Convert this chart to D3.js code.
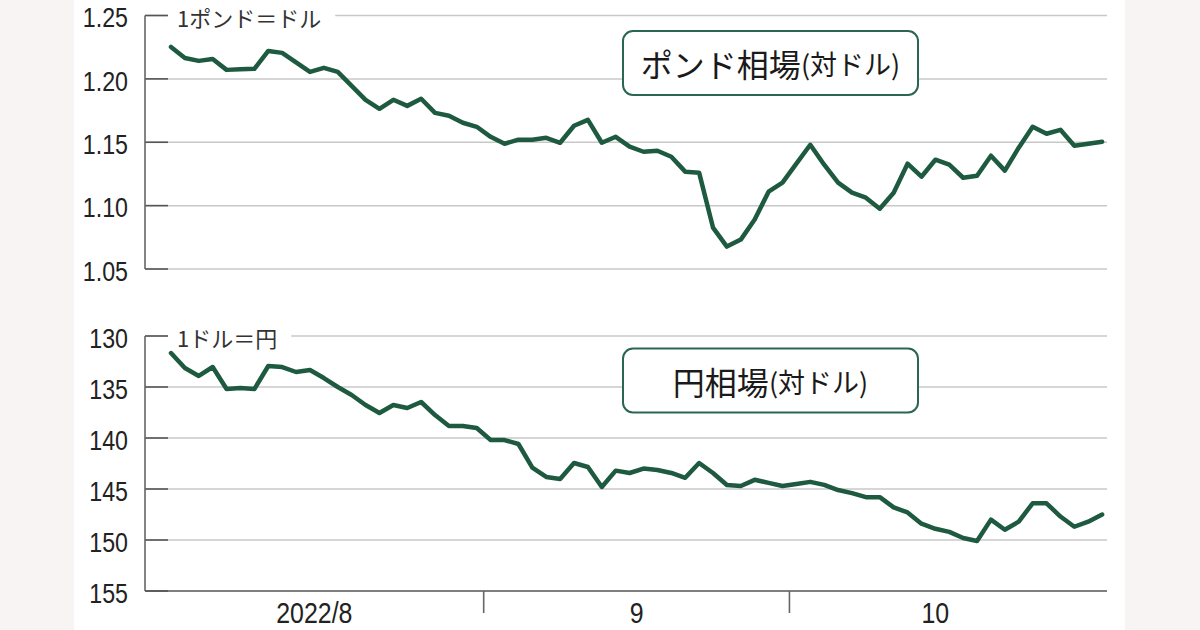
<!DOCTYPE html>
<html><head><meta charset="utf-8">
<script src="https://cdn.jsdelivr.net/npm/d3@7"></script>
<style>
html,body{margin:0;padding:0;background:#f8f4f3;}
svg{display:block;}
</style></head><body>
<svg id="chart" width="1200" height="630"></svg>
<script>
// ---- data (one value per trading day, Aug 1 2022 .. Nov 2 2022) ----
const poundValues = [
  1.2252,1.2165,1.2142,1.2157,1.2071,1.2075,1.2079,1.2220,1.2205,1.2130,
  1.2055,1.2087,1.2055,1.1945,1.1835,1.1764,1.1835,1.1787,1.1843,1.1732,
  1.1709,1.1654,1.1622,1.1543,1.1488,1.1520,1.1520,1.1535,1.1496,1.1630,
  1.1677,1.1496,1.1543,1.1465,1.1425,1.1433,1.1386,1.1268,1.1260,1.0827,
  1.0677,1.0732,1.0890,1.1110,1.1181,1.1331,1.1480,1.1323,1.1181,1.1102,
  1.1063,1.0976,1.1102,1.1331,1.1228,1.1362,1.1323,1.1220,1.1236,1.1394,
  1.1276,1.1457,1.1622,1.1567,1.1598,1.1472,1.1488,1.1504
];
const yenValues = [
  131.67,133.14,133.92,133.04,135.20,135.10,135.20,132.94,133.04,133.53,
  133.33,134.12,135.00,135.78,136.76,137.55,136.76,137.06,136.47,137.75,
  138.82,138.82,139.02,140.20,140.20,140.59,142.90,143.82,144.02,142.45,
  142.84,144.80,143.20,143.43,143.00,143.14,143.43,143.90,142.45,143.43,
  144.60,144.70,144.10,144.40,144.70,144.50,144.30,144.60,145.10,145.40,
  145.80,145.80,146.80,147.30,148.40,148.90,149.20,149.80,150.10,148.00,
  149.00,148.20,146.40,146.40,147.70,148.70,148.20,147.50
];
const poundTicks = [1.05, 1.10, 1.15, 1.20, 1.25];
const poundTickLabels = ["1.05", "1.10", "1.15", "1.20", "1.25"];
const yenTicks = [130, 135, 140, 145, 150, 155];
const yenTickLabels = ["130", "135", "140", "145", "150", "155"];
const monthLabels = ["2022/8", "9", "10"];
const monthFirstIdx = [0, 23, 45];
const monthLastIdx = [22, 44, 65];
const poundUnit = "1ポンド＝ドル";
const yenUnit = "1ドル＝円";
const poundTitle = ["ポンド相場", "(対ドル)"];
const yenTitle = ["円相場", "(対ドル)"];

// ---- layout ----
const svg = d3.select("#chart");
const L = 145, R = 1107;
const numFont = "'Liberation Sans', Arial, sans-serif";
const jpFont = "'Noto Sans CJK JP', 'Noto Sans', sans-serif";
const green = "#1e5a40";

svg.append("rect").attr("x", 74).attr("y", 0).attr("width", 1051).attr("height", 630).attr("fill", "#ffffff");

const x = d3.scaleLinear().domain([-1.87, 67.35]).range([L, R]);
const yTop = d3.scaleLinear().domain([1.05, 1.25]).range([269, 15.5]);
const yBot = d3.scaleLinear().domain([155, 130]).range([591, 336]);

function panel(yScale, ticks, labels, unit, values, bottomAxis) {
  const g = svg.append("g");
  const maxT = d3.max(ticks);
  // grid lines
  g.selectAll(".grid").data(ticks).join("line")
    .attr("x1", L).attr("x2", R)
    .attr("y1", d => yScale(d)).attr("y2", d => yScale(d))
    .attr("stroke", d => (bottomAxis && d === maxT) ? "#555" : "#c8c8c8")
    .attr("stroke-width", d => (bottomAxis && d === maxT) ? 1.7 : 1.5);
  // unit label with white backing over the top grid line
  const topY = d3.min(ticks.map(yScale));
  const ut = g.append("text").attr("x", L + 32).attr("y", topY + 1)
    .attr("dominant-baseline", "central")
    .attr("font-family", jpFont).attr("font-size", 22).attr("fill", "#333")
    .text(unit);
  const bb = ut.node().getBBox();
  g.insert("rect", "text").attr("x", L + 22).attr("y", topY - 3)
    .attr("width", bb.width + 24).attr("height", 6).attr("fill", "#fff");
  // tick marks
  g.selectAll(".tk").data(ticks).join("line")
    .attr("x1", L).attr("x2", L + 23)
    .attr("y1", d => yScale(d)).attr("y2", d => yScale(d))
    .attr("stroke", "#555").attr("stroke-width", 1.6);
  // y axis line
  g.append("line").attr("x1", L).attr("x2", L)
    .attr("y1", d3.min(ticks.map(yScale))).attr("y2", d3.max(ticks.map(yScale)))
    .attr("stroke", "#666").attr("stroke-width", 1.6);
  // tick labels
  g.selectAll(".tl").data(ticks).join("text")
    .attr("transform", d => `translate(128,${yScale(d) + 2}) scale(0.86,1)`)
    .attr("text-anchor", "end").attr("dominant-baseline", "central")
    .attr("font-family", numFont).attr("font-size", 27).attr("fill", "#222")
    .text((d, i) => labels[i]);
  // series line
  g.append("path").datum(values)
    .attr("d", d3.line().x((d, i) => x(i)).y(d => yScale(d)))
    .attr("fill", "none").attr("stroke", green).attr("stroke-width", 4.5)
    .attr("stroke-linejoin", "round").attr("stroke-linecap", "round");
  return g;
}

function titleBox(cx, cy, parts) {
  const g = svg.append("g");
  const t = g.append("text").attr("x", cx).attr("y", cy)
    .attr("text-anchor", "middle").attr("dominant-baseline", "central")
    .attr("font-family", jpFont).attr("fill", "#1a1a1a");
  t.append("tspan").attr("font-size", 32).attr("font-weight", 400).text(parts[0]);
  t.append("tspan").attr("font-size", 27).attr("font-weight", 400).text(parts[1]);
  const w = 295, h = 64;
  g.insert("rect", "text").attr("x", cx - w / 2).attr("y", cy - h / 2)
    .attr("width", w).attr("height", h).attr("rx", 10).attr("ry", 10)
    .attr("fill", "#fff").attr("stroke", "#2b6650").attr("stroke-width", 2);
}

panel(yTop, poundTicks, poundTickLabels, poundUnit, poundValues, false);
panel(yBot, yenTicks, yenTickLabels, yenUnit, yenValues, true);
titleBox(770.5, 63, poundTitle);
titleBox(770.5, 380.5, yenTitle);

// x axis ticks (month boundaries) and labels
const boundaries = monthFirstIdx.slice(1).map((f, i) => (f + monthLastIdx[i]) / 2);
svg.selectAll(".xt").data(boundaries).join("line")
  .attr("x1", d => x(d)).attr("x2", d => x(d))
  .attr("y1", yBot(155)).attr("y2", yBot(155) + 22)
  .attr("stroke", "#666").attr("stroke-width", 1.6);
const labelPos = monthLabels.map((m, i) => {
  const a = i === 0 ? x.domain()[0] : monthFirstIdx[i] - 0.5;
  const b = monthLastIdx[i] + 0.5;
  return (a + b) / 2;
});
svg.selectAll(".xl").data(monthLabels).join("text")
  .attr("transform", (d, i) => `translate(${x(labelPos[i])},623) scale(0.86,1)`)
  .attr("text-anchor", "middle")
  .attr("font-family", numFont).attr("font-size", 29).attr("fill", "#222")
  .text(d => d);
</script>
</body></html>
